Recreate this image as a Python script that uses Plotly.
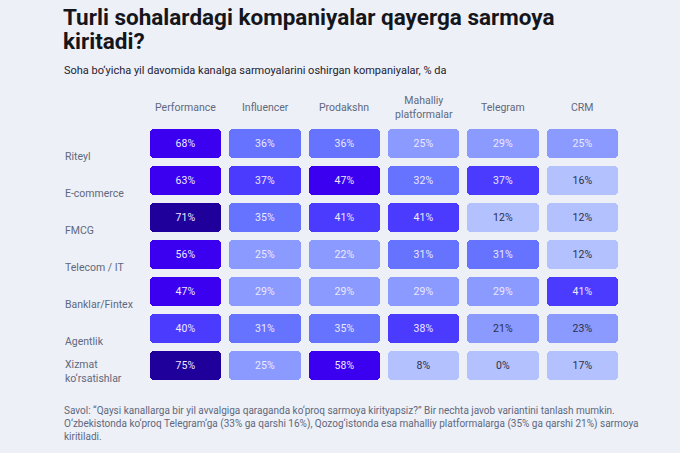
import plotly.graph_objects as go

rows = ["Riteyl", "E-commerce", "FMCG", "Telecom / IT", "Banklar/Fintex", "Agentlik", "Xizmat<br>ko‘rsatishlar"]
cols = ["Performance", "Influencer", "Prodakshn", "Mahalliy<br>platformalar", "Telegram", "CRM"]

performance = [68, 63, 71, 56, 47, 40, 75]
influencer = [36, 37, 35, 25, 29, 31, 25]
prodakshn = [36, 47, 41, 22, 29, 35, 58]
mahalliy = [25, 32, 41, 31, 29, 38, 8]
telegram = [29, 37, 12, 31, 29, 21, 0]
crm = [25, 16, 12, 12, 41, 23, 17]
series = [performance, influencer, prodakshn, mahalliy, telegram, crm]

# cells whose label is printed in dark text although the value is not in the lightest bin
dark_label_cells = {(5, 4), (5, 5)}

BG = "#edf0f7"
W, H = 680, 453
ML, MR, MT, MB = 146, 58, 125, 69
W_PLOT = W - ML - MR
H_PLOT = H - MT - MB


def px_x(x):
    return (x - ML) / W_PLOT


def px_y(y):
    return 1 - (y - MT) / H_PLOT


def cell_color(v):
    if v >= 70:
        return "#20009a"
    if v >= 45:
        return "#3a00ef"
    if v >= 37:
        return "#4b3bff"
    if v >= 30:
        return "#6573ff"
    if v >= 20:
        return "#8b9aff"
    return "#b4c1ff"


fig = go.Figure()
CELL_W = 0.9
for ci, vals in enumerate(series):
    colors = [cell_color(v) for v in vals]
    tcolors = ["#2b3047" if (v < 20 or (ri, ci) in dark_label_cells) else "#ece8ff"
               for ri, v in enumerate(vals)]
    fig.add_trace(go.Bar(
        orientation="h",
        y=list(range(len(rows))),
        x=[CELL_W] * len(vals),
        base=[ci - CELL_W / 2] * len(vals),
        width=0.79,
        marker=dict(color=colors, cornerradius=4, line=dict(width=0)),
        text=[f"{v}%" for v in vals],
        textposition="inside",
        insidetextanchor="middle",
        textangle=0,
        textfont=dict(family="Roboto", size=10.5, color=tcolors),
        hoverinfo="skip",
        showlegend=False,
    ))

annotations = []
for ci, c in enumerate(cols):
    annotations.append(dict(
        x=ci, xref="x", y=1, yref="paper", yshift=18, yanchor="middle",
        text=c, showarrow=False, align="center",
        font=dict(family="Roboto", size=10.5, color="#5f687d"),
    ))
for ri, r in enumerate(rows):
    annotations.append(dict(
        x=px_x(63), xref="paper", y=ri, yref="y", yshift=-21, yanchor="bottom",
        xanchor="left", text=r, showarrow=False, align="left",
        font=dict(family="Roboto", size=10.5, color="#5f687d"),
    ))

title_lines = ["<b>Turli sohalardagi kompaniyalar qayerga sarmoya</b>", "<b>kiritadi?</b>"]
sub_text = "Soha bo‘yicha yil davomida kanalga sarmoyalarini oshirgan kompaniyalar, % da"
foot_text = ("Savol: “Qaysi kanallarga bir yil avvalgiga qaraganda ko‘proq sarmoya kirityapsiz?” Bir nechta javob variantini tanlash mumkin.<br>"
             "O‘zbekistonda ko‘proq Telegram‘ga (33% ga qarshi 16%), Qozog‘istonda esa mahalliy platformalarga (35% ga qarshi 21%) sarmoya<br>"
             "kiritiladi.")

for line, yc in zip(title_lines, [17, 41]):
    annotations.append(dict(x=px_x(61), y=px_y(yc), xref="paper", yref="paper",
                            xanchor="left", yanchor="middle", showarrow=False, align="left",
                            text=line,
                            font=dict(family="Roboto", size=22.5, color="#15161c")))
annotations.append(dict(x=px_x(62), y=px_y(70), xref="paper", yref="paper",
                        xanchor="left", yanchor="middle", showarrow=False, align="left",
                        text=sub_text,
                        font=dict(family="Roboto", size=11, color="#1f2130")))
annotations.append(dict(x=px_x(62), y=px_y(423), xref="paper", yref="paper",
                        xanchor="left", yanchor="middle", showarrow=False, align="left",
                        text=foot_text,
                        font=dict(family="Roboto", size=10, color="#5f687d")))

fig.update_layout(
    width=W, height=H,
    margin=dict(l=ML, r=MR, t=MT, b=MB),
    paper_bgcolor=BG, plot_bgcolor=BG,
    barmode="overlay",
    bargap=0,
    xaxis=dict(range=[-0.5, 5.5], visible=False, fixedrange=True),
    yaxis=dict(range=[6.5, -0.5], visible=False, fixedrange=True),
    annotations=annotations,
    uniformtext=dict(minsize=8, mode="show"),
)

fig.write_html("out.html")
